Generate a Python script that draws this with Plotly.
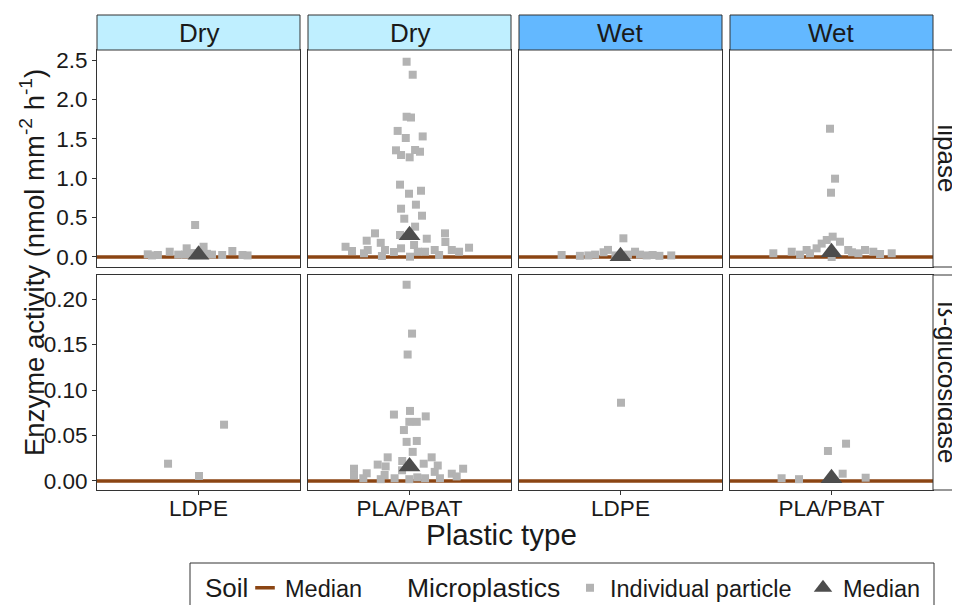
import plotly.graph_objects as go

# ---------------- data ----------------
moisture = ["Dry", "Dry", "Wet", "Wet"]
plastic = ["LDPE", "PLA/PBAT", "LDPE", "PLA/PBAT"]
enzymes = ["lipase", "ß-glucosidase"]

# lipase, individual particles (value, jitter offset)
dry_ldpe_lip_y = [0.034, 0.02, 0.025, 0.067, 0.03, 0.03, 0.05, 0.406, 0.09, 0.04, 0.03, 0.025,
                  0.076, 0.025, 0.02, 0.13, 0.11]
dry_ldpe_lip_j = [-0.30, -0.275, -0.24, -0.17, -0.12, -0.08, -0.04, -0.02, 0.027, 0.05, 0.08, 0.14,
                  0.20, 0.26, 0.29, 0.03, -0.07]

dry_pla_lip_y = [2.478, 2.313, 1.78, 1.77, 1.60, 1.51, 1.53, 1.354, 1.294, 1.265, 1.358, 1.336,
                 0.918, 0.803, 0.841, 0.613, 0.664, 0.486, 0.524, 0.385, 0.30, 0.279, 0.30, 0.207,
                 0.18, 0.232, 0.19, 0.13, 0.076, 0.118, 0.089, 0.047, 0.089, 0.013, 0.063, 0.11,
                 0.152, 0.067, 0.067, 0.089, 0.025, 0.089, 0.067, 0.004]
dry_pla_lip_j = [-0.017, 0.019, -0.017, 0.009, -0.07, -0.022, 0.078, -0.08, -0.05, 0.001, 0.033, 0.062,
                 -0.056, -0.003, 0.068, -0.05, 0.038, -0.031, 0.074, 0.033, -0.204, -0.056, 0.21, -0.253,
                 -0.17, 0.102, 0.212, -0.378, -0.34, 0.352, -0.247, -0.269, -0.145, -0.163, -0.092, -0.05,
                 0.027, 0.049, 0.092, 0.149, 0.175, 0.25, 0.293, 0.003]

wet_ldpe_lip_y = [0.025, 0.015, 0.02, 0.03, 0.06, 0.09, 0.02, 0.237, 0.03, 0.067, 0.03, 0.02,
                  0.025, 0.015, 0.02]
wet_ldpe_lip_j = [-0.348, -0.24, -0.19, -0.15, -0.10, -0.074, -0.03, 0.017, 0.044, 0.086, 0.115, 0.155,
                  0.19, 0.23, 0.30]

wet_pla_lip_y = [1.628, 0.994, 0.816, 0.047, 0.067, 0.089, 0.047, 0.11, 0.17, 0.216, 0.258, 0.194,
                 0.089, 0.047, 0.089, 0.067, 0.038, 0.047, 0.0, 0.03, 0.06]
wet_pla_lip_j = [-0.009, 0.021, -0.003, -0.344, -0.235, -0.147, -0.127, -0.088, -0.058, -0.028, 0.007, 0.05,
                 0.099, 0.159, 0.198, 0.247, 0.287, 0.356, 0.001, -0.186, 0.121]

# beta-glucosidase, individual particles
dry_ldpe_glu_y = [0.019, 0.0619, 0.0055]
dry_ldpe_glu_j = [-0.18, 0.151, 0.003]

dry_pla_glu_y = [0.2157, 0.162, 0.139, 0.073, 0.077, 0.071, 0.065, 0.065, 0.056, 0.043, 0.044, 0.032,
                 0.026, 0.018, 0.016, 0.022, 0.026, 0.019, 0.017, 0.010, 0.0135, 0.008, 0.005, 0.0135,
                 0.006, 0.0085, 0.003, 0.0066, 0.002, 0.003, 0.0118, 0.002, 0.004, 0.003, 0.003]
dry_pla_glu_j = [-0.017, 0.015, -0.011, -0.092, 0.003, 0.096, -0.001, 0.043, -0.033, -0.017, 0.043, 0.019,
                 -0.129, -0.188, -0.141, -0.043, 0.131, 0.084, 0.167, 0.149, 0.317, 0.25, 0.279, -0.328,
                 -0.328, -0.253, -0.273, -0.147, -0.17, -0.088, -0.044, -0.001, 0.046, 0.092, 0.18]

wet_ldpe_glu_y = [0.086]
wet_ldpe_glu_j = [0.003]

wet_pla_glu_y = [0.033, 0.041, 0.008, 0.003, 0.002, 0.0036]
wet_pla_glu_j = [-0.021, 0.086, 0.066, -0.295, -0.192, 0.202]

# medians
lipase_particle_median = [0.027, 0.275, 0.01, 0.06]
glucosidase_particle_median = [None, 0.016, None, 0.003]
lipase_soil_median = [0.0, 0.0, 0.0, 0.0]
glucosidase_soil_median = [0.0, 0.0, 0.0, 0.0]

lipase_ticks = [0.0, 0.5, 1.0, 1.5, 2.0, 2.5]
lipase_ticktext = ["0.0", "0.5", "1.0", "1.5", "2.0", "2.5"]
gluc_ticks = [0.0, 0.05, 0.10, 0.15, 0.20]
gluc_ticktext = ["0.00", "0.05", "0.10", "0.15", "0.20"]

panel_y = [
    [dry_ldpe_lip_y, dry_pla_lip_y, wet_ldpe_lip_y, wet_pla_lip_y],
    [dry_ldpe_glu_y, dry_pla_glu_y, wet_ldpe_glu_y, wet_pla_glu_y],
]
panel_j = [
    [dry_ldpe_lip_j, dry_pla_lip_j, wet_ldpe_lip_j, wet_pla_lip_j],
    [dry_ldpe_glu_j, dry_pla_glu_j, wet_ldpe_glu_j, wet_pla_glu_j],
]
particle_medians = [lipase_particle_median, glucosidase_particle_median]
soil_medians = [lipase_soil_median, glucosidase_soil_median]

# ---------------- layout geometry (screen pixels; page body has 8px margin) ----------------
W, H = 960, 605
OFF = 8
PL, PR, PT, PB = 97, 933, 15, 490          # plot area on screen
ML, MR, MT, MB = PL - OFF, W - (PR - OFF), PT - OFF, H - (PB - OFF)
PW, PH = PR - PL, PB - PT


def px2x(px):
    return (px - PL) / PW


def py2y(py):
    return (PB - py) / PH


col_px = [(97, 300), (308, 511), (519, 722), (730, 933)]
row_px = [(50, 267), (275, 490)]
strip_top = 15
yranges = [[-0.127, 2.627], [-0.0099, 0.2264]]

FONT = "Liberation Sans, Arial, sans-serif"
TXT = "#1a1a1a"
FRAME = "#333333"
POINT = "#B3B3B3"
TRI = "#4D4D4D"
SOIL = "#8B4513"
strip_fill = {"Dry": "#BFEFFF", "Wet": "#63B8FF"}
TICK_SIZE = 22.5
XTITLE_SIZE = 29.5
YTITLE_SIZE = 27.5
STRIP_SIZE = 26
LEG_SIZE = 23.5

fig = go.Figure()
layout_axes = {}
shapes = []
annotations = []

for r in range(2):
    for c in range(4):
        i = r * 4 + c + 1
        xa = "x" if i == 1 else f"x{i}"
        ya = "y" if i == 1 else f"y{i}"
        xkey = "xaxis" if i == 1 else f"xaxis{i}"
        ykey = "yaxis" if i == 1 else f"yaxis{i}"

        ys = panel_y[r][c]
        xs = [1 + j for j in panel_j[r][c]]
        fig.add_trace(go.Scatter(
            x=xs, y=ys, mode="markers", xaxis=xa, yaxis=ya,
            marker=dict(symbol="square", size=8, color=POINT, line=dict(width=0)),
            showlegend=False, hoverinfo="skip"))
        med = particle_medians[r][c]
        if med is not None:
            fig.add_trace(go.Scatter(
                x=[1], y=[med], mode="markers", xaxis=xa, yaxis=ya,
                marker=dict(symbol="triangle-up", size=19, color=TRI, line=dict(width=0)),
                showlegend=False, hoverinfo="skip"))
        shapes.append(dict(type="line", xref=f"{xa} domain", yref=ya, x0=0, x1=1,
                           y0=soil_medians[r][c], y1=soil_medians[r][c],
                           line=dict(color=SOIL, width=3.5), layer="below"))

        layout_axes[xkey] = dict(
            domain=[px2x(col_px[c][0]), px2x(col_px[c][1])], anchor=ya,
            range=[0.4, 1.6], showgrid=False, zeroline=False,
            showline=True, mirror=True, linecolor=FRAME, linewidth=1,
            tickvals=[1], ticktext=[plastic[c]],
            ticks="outside" if r == 1 else "", ticklen=4, tickcolor=FRAME,
            showticklabels=(r == 1), ticklabelstandoff=-6,
            tickfont=dict(size=TICK_SIZE, color=TXT, family=FONT))
        layout_axes[ykey] = dict(
            domain=[py2y(row_px[r][1]), py2y(row_px[r][0])], anchor=xa,
            range=yranges[r], showgrid=False, zeroline=False,
            showline=True, mirror=True, linecolor=FRAME, linewidth=1,
            tickvals=lipase_ticks if r == 0 else gluc_ticks,
            ticktext=lipase_ticktext if r == 0 else gluc_ticktext,
            ticks="outside" if c == 0 else "", ticklen=4, tickcolor=FRAME,
            showticklabels=(c == 0),
            tickfont=dict(size=TICK_SIZE, color=TXT, family=FONT))


def label(text, sx, sy, size, angle=0, xanchor="center"):
    annotations.append(dict(xref="paper", yref="paper", x=px2x(sx), y=py2y(sy),
                            xanchor=xanchor, yanchor="middle", text=text, textangle=angle,
                            showarrow=False, font=dict(size=size, color=TXT, family=FONT)))


# top strips
for c in range(4):
    shapes.append(dict(type="rect", xref="paper", yref="paper",
                       x0=px2x(col_px[c][0]), x1=px2x(col_px[c][1]),
                       y0=py2y(row_px[0][0]), y1=py2y(strip_top),
                       fillcolor=strip_fill[moisture[c]], line=dict(color=FRAME, width=1)))
    label(moisture[c], (col_px[c][0] + col_px[c][1]) / 2, (row_px[0][0] + strip_top) / 2 + 1,
          STRIP_SIZE)
# right strips
for r in range(2):
    shapes.append(dict(type="rect", xref="paper", yref="paper",
                       x0=px2x(933), x1=px2x(969),
                       y0=py2y(row_px[r][1]), y1=py2y(row_px[r][0]),
                       fillcolor="white", line=dict(color=FRAME, width=1)))
    label(enzymes[r], 947, (row_px[r][0] + row_px[r][1]) / 2, STRIP_SIZE, angle=90)

# axis titles
label("Plastic type", 501, 534, XTITLE_SIZE)
label("Enzyme activity (nmol mm<sup>-2</sup> h<sup>-1</sup>)", 32, 263, YTITLE_SIZE, angle=-90)

# legend frame and titles
shapes.append(dict(type="rect", xref="paper", yref="paper",
                   x0=px2x(190), x1=px2x(934), y0=py2y(630), y1=py2y(563),
                   fillcolor="white", line=dict(color=FRAME, width=1), layer="below"))
label("Soil", 203, 588, 26, xanchor="left")
label("Microplastics", 405, 588, 26.5, xanchor="left")

# legend entries
fig.add_trace(go.Scatter(x=[None], y=[None], mode="markers", name="Median", legend="legend",
                         marker=dict(symbol="line-ew", size=14, color=SOIL,
                                     line=dict(color=SOIL, width=3.5))))
fig.add_trace(go.Scatter(x=[None], y=[None], mode="markers", name="Individual particle",
                         legend="legend2",
                         marker=dict(symbol="square", size=8, color=POINT, line=dict(width=0))))
fig.add_trace(go.Scatter(x=[None], y=[None], mode="markers", name="Median", legend="legend3",
                         marker=dict(symbol="triangle-up", size=19, color=TRI, line=dict(width=0))))


def leg(sx):
    return dict(orientation="h", x=px2x(sx), y=py2y(588), xanchor="left", yanchor="middle",
                font=dict(size=LEG_SIZE, color=TXT, family=FONT), bgcolor="rgba(0,0,0,0)",
                borderwidth=0)


fig.update_layout(
    width=W, height=H,
    margin=dict(l=ML, r=MR, t=MT, b=MB, autoexpand=False),
    paper_bgcolor="white", plot_bgcolor="white",
    font=dict(family=FONT, color=TXT),
    shapes=shapes, annotations=annotations,
    legend=leg(245), legend2=leg(570), legend3=leg(803),
    **layout_axes,
)

fig.write_html("out.html")
